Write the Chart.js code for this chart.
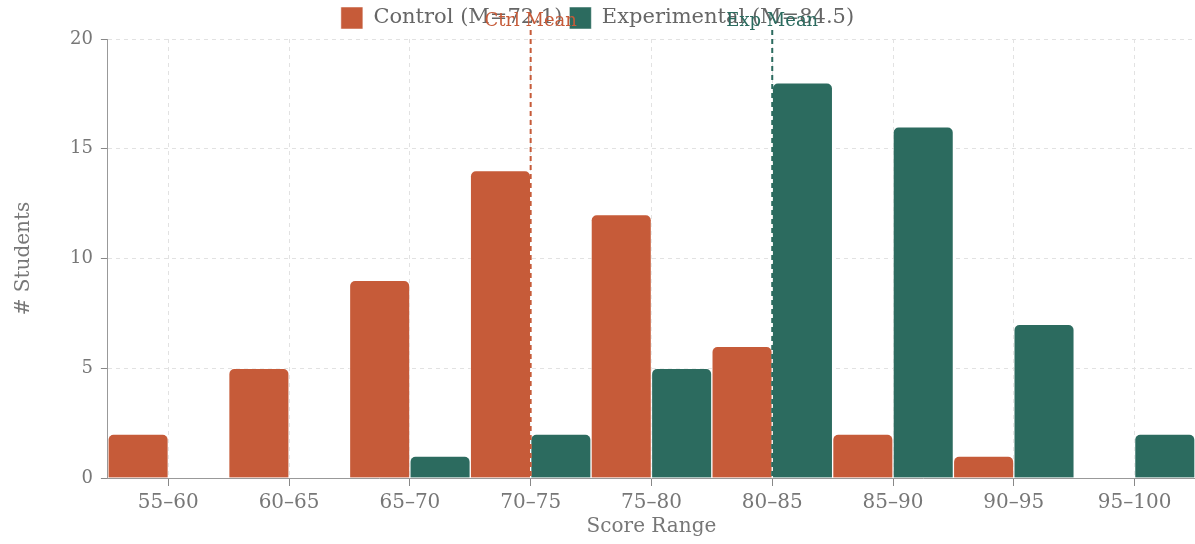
<!DOCTYPE html>
<html lang="en">
<head>
  <meta charset="UTF-8" />
  <title>Score Distribution</title>
  <script src="https://cdn.jsdelivr.net/npm/chart.js"></script>
  <style>
    body {
      margin: 0;
      background: #ffffff;
    }
    .chart-box {
      width: 1195px;
      height: 544px;
    }
  </style>
</head>
<body>
  <div class="chart-box">
    <canvas id="scoreChart"></canvas>
  </div>

  <script>
    // data
    const categories = ['55–60', '60–65', '65–70', '70–75', '75–80', '80–85', '85–90', '90–95', '95–100'];
    const controlCounts = [2, 5, 9, 14, 12, 6, 2, 1, 0];
    const experimentalCounts = [0, 0, 1, 2, 5, 18, 16, 7, 2];
    const seriesNames = ['Control (M=72.1)', 'Experimental (M=84.5)'];
    const meanNames = ['Ctrl Mean', 'Exp Mean'];
    const meanCategories = ['70–75', '80–85'];
    const yTicks = [0, 5, 10, 15, 20];

    const orange = '#c65b39';
    const green = '#2c6b5f';
    const serif = "'DejaVu Serif', serif";

    // dashed mean lines with their labels
    const meanLines = {
      id: 'meanLines',
      afterDatasetsDraw(chart) {
        const { ctx, chartArea, scales } = chart;
        const cols = [orange, green];
        meanCategories.forEach((cat, i) => {
          const px = scales.x.getPixelForValue(categories.indexOf(cat));
          ctx.save();
          ctx.strokeStyle = cols[i];
          ctx.lineWidth = 2;
          ctx.setLineDash([5, 4]);
          ctx.beginPath();
          ctx.moveTo(px, chartArea.top - 9);
          ctx.lineTo(px, chartArea.bottom);
          ctx.stroke();
          ctx.setLineDash([]);
          ctx.fillStyle = cols[i];
          ctx.font = '18px ' + serif;
          ctx.textAlign = 'center';
          ctx.textBaseline = 'middle';
          ctx.fillText(meanNames[i], px, chartArea.top - 18);
          ctx.restore();
        });
      }
    };

    const ctx = document.getElementById('scoreChart').getContext('2d');
    new Chart(ctx, {
      type: 'bar',
      data: {
        labels: categories,
        datasets: [
          {
            label: seriesNames[0],
            data: controlCounts,
            backgroundColor: orange,
            borderColor: 'rgba(255,255,255,0.5)',
            borderWidth: 1,
            borderRadius: { topLeft: 6, topRight: 6 },
            borderSkipped: 'bottom',
            categoryPercentage: 1,
            barPercentage: 1
          },
          {
            label: seriesNames[1],
            data: experimentalCounts,
            backgroundColor: green,
            borderColor: 'rgba(255,255,255,0.5)',
            borderWidth: 1,
            borderRadius: { topLeft: 6, topRight: 6 },
            borderSkipped: 'bottom',
            categoryPercentage: 1,
            barPercentage: 1
          }
        ]
      },
      options: {
        responsive: true,
        maintainAspectRatio: false,
        animation: false,
        layout: { padding: { top: 0, right: 0, left: 0, bottom: 5 } },
        plugins: {
          legend: {
            labels: {
              color: '#666',
              boxWidth: 22,
              boxHeight: 22,
              padding: 7,
              font: { family: serif, size: 21 }
            }
          },
          tooltip: { enabled: false }
        },
        scales: {
          x: {
            grid: {
              offset: false,
              color: '#e2e2e2',
              tickColor: '#888',
              tickBorderDash: [],
              tickLength: 8
            },
            border: { color: '#999', width: 1, dash: [4, 4] },
            ticks: {
              color: '#777',
              font: { family: serif, size: 20 },
              padding: 5,
              maxRotation: 0
            },
            title: {
              display: true,
              text: 'Score Range',
              color: '#777',
              font: { family: serif, size: 20 },
              padding: { top: -5, bottom: 0 }
            }
          },
          y: {
            min: 0,
            max: 20,
            afterBuildTicks(scale) {
              scale.ticks = yTicks.map(v => ({ value: v }));
            },
            grid: {
              color: '#e2e2e2',
              tickColor: '#888',
              tickBorderDash: [],
              tickLength: 7
            },
            border: { color: '#999', width: 1, dash: [4, 4] },
            ticks: {
              color: '#777',
              font: { family: serif, size: 18 },
              padding: 8
            },
            title: {
              display: true,
              text: '# Students',
              color: '#777',
              font: { family: serif, size: 20 },
              padding: { top: 12, bottom: 26 }
            }
          }
        }
      },
      plugins: [meanLines]
    });
  </script>
</body>
</html>
